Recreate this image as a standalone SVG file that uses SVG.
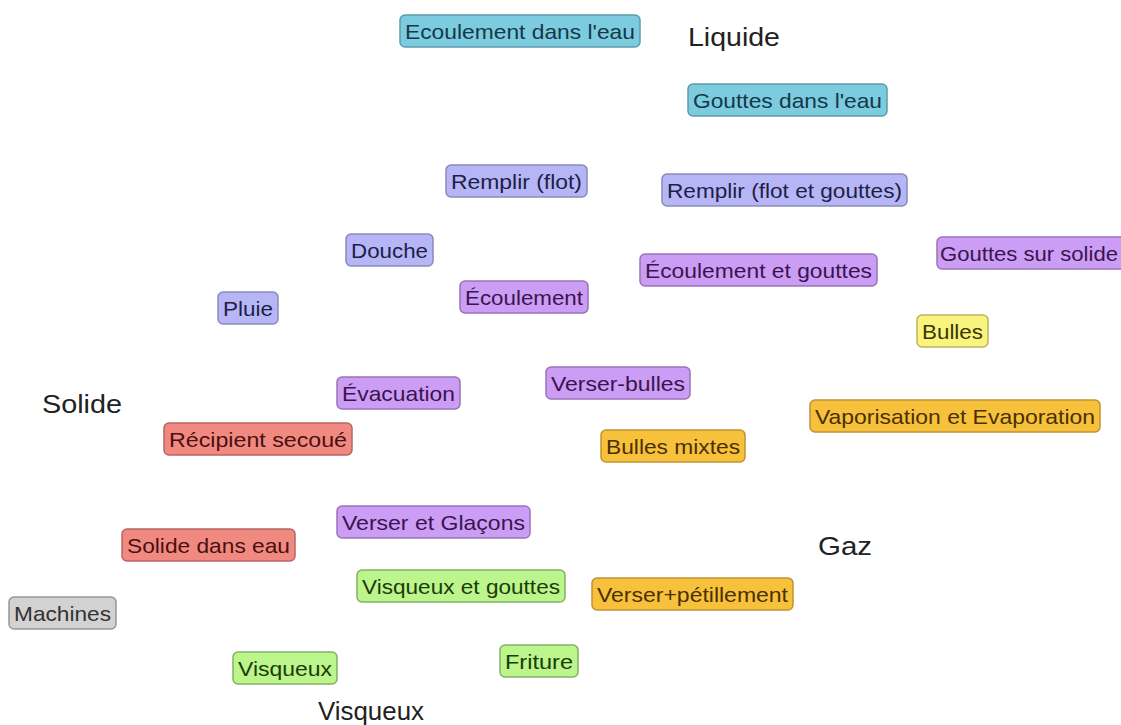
<svg xmlns="http://www.w3.org/2000/svg" width="1121" height="725" viewBox="0 0 1121 725">
<style>
.b{stroke-width:1.5}
.t{font-family:"Liberation Sans",Arial,sans-serif;font-size:21px;text-anchor:middle;dominant-baseline:central}
.L{font-family:"Liberation Sans",Arial,sans-serif;font-size:25px;fill:#222}
.cy rect{fill:#7ccbde;stroke:#5c9cac}.cy text{fill:#15384a}
.lv rect{fill:#b6b6f6;stroke:#8a8ab8}.lv text{fill:#1e1e48}
.pu rect{fill:#cc9df5;stroke:#9a74b6}.pu text{fill:#3a1450}
.ye rect{fill:#f8f47e;stroke:#b8b460}.ye text{fill:#3a3608}
.or rect{fill:#f7c13c;stroke:#c09234}.or text{fill:#4a3004}
.re rect{fill:#f08a80;stroke:#b86464}.re text{fill:#4a1010}
.gr rect{fill:#bbf58c;stroke:#82b264}.gr text{fill:#1c3c08}
.gy rect{fill:#d2d2d2;stroke:#969696}.gy text{fill:#333}
</style>
<rect width="1121" height="725" fill="#fff"/>
<g id="connectors"/>
<g id="n1" class="cy"><rect class="b" x="400" y="15" width="240" height="32" rx="5"/><text class="t" x="520" y="31" textLength="230" lengthAdjust="spacingAndGlyphs">Ecoulement dans l'eau</text></g>
<g id="n2" class="cy"><rect class="b" x="688" y="84" width="199" height="32" rx="5"/><text class="t" x="787.5" y="100" textLength="189" lengthAdjust="spacingAndGlyphs">Gouttes dans l'eau</text></g>
<g id="n3" class="lv"><rect class="b" x="446" y="165" width="141" height="32" rx="5"/><text class="t" x="516.5" y="181" textLength="131" lengthAdjust="spacingAndGlyphs">Remplir (flot)</text></g>
<g id="n4" class="lv"><rect class="b" x="662" y="174" width="245" height="32" rx="5"/><text class="t" x="784.5" y="190" textLength="235" lengthAdjust="spacingAndGlyphs">Remplir (flot et gouttes)</text></g>
<g id="n5" class="lv"><rect class="b" x="346" y="234" width="87" height="32" rx="5"/><text class="t" x="389.5" y="250" textLength="77" lengthAdjust="spacingAndGlyphs">Douche</text></g>
<g id="n6" class="pu"><rect class="b" x="937" y="237" width="190" height="32" rx="5"/><text class="t" x="1029" y="253" textLength="178" lengthAdjust="spacingAndGlyphs">Gouttes sur solide</text></g>
<g id="n7" class="pu"><rect class="b" x="640" y="254" width="237" height="32" rx="5"/><text class="t" x="758.5" y="270" textLength="227" lengthAdjust="spacingAndGlyphs">Écoulement et gouttes</text></g>
<g id="n8" class="pu"><rect class="b" x="460" y="281" width="128" height="32" rx="5"/><text class="t" x="524" y="297" textLength="118" lengthAdjust="spacingAndGlyphs">Écoulement</text></g>
<g id="n9" class="lv"><rect class="b" x="218" y="292" width="60" height="32" rx="5"/><text class="t" x="248" y="308" textLength="50" lengthAdjust="spacingAndGlyphs">Pluie</text></g>
<g id="n10" class="ye"><rect class="b" x="917" y="315" width="71" height="32" rx="5"/><text class="t" x="952.5" y="331" textLength="61" lengthAdjust="spacingAndGlyphs">Bulles</text></g>
<g id="n11" class="pu"><rect class="b" x="337" y="377" width="123" height="32" rx="5"/><text class="t" x="398.5" y="393" textLength="113" lengthAdjust="spacingAndGlyphs">Évacuation</text></g>
<g id="n12" class="pu"><rect class="b" x="546" y="367" width="144" height="32" rx="5"/><text class="t" x="618" y="383" textLength="134" lengthAdjust="spacingAndGlyphs">Verser-bulles</text></g>
<g id="n13" class="or"><rect class="b" x="810" y="400" width="290" height="32" rx="5"/><text class="t" x="955" y="416" textLength="280" lengthAdjust="spacingAndGlyphs">Vaporisation et Evaporation</text></g>
<g id="n14" class="re"><rect class="b" x="164" y="423" width="188" height="32" rx="5"/><text class="t" x="258" y="439" textLength="178" lengthAdjust="spacingAndGlyphs">Récipient secoué</text></g>
<g id="n15" class="or"><rect class="b" x="601" y="430" width="144" height="32" rx="5"/><text class="t" x="673" y="446" textLength="134" lengthAdjust="spacingAndGlyphs">Bulles mixtes</text></g>
<g id="n16" class="pu"><rect class="b" x="337" y="506" width="193" height="32" rx="5"/><text class="t" x="433.5" y="522" textLength="183" lengthAdjust="spacingAndGlyphs">Verser et Glaçons</text></g>
<g id="n17" class="re"><rect class="b" x="122" y="529" width="173" height="32" rx="5"/><text class="t" x="208.5" y="545" textLength="163" lengthAdjust="spacingAndGlyphs">Solide dans eau</text></g>
<g id="n18" class="gr"><rect class="b" x="357" y="570" width="208" height="32" rx="5"/><text class="t" x="461" y="586" textLength="198" lengthAdjust="spacingAndGlyphs">Visqueux et gouttes</text></g>
<g id="n19" class="or"><rect class="b" x="592" y="578" width="201" height="32" rx="5"/><text class="t" x="692.5" y="594" textLength="191" lengthAdjust="spacingAndGlyphs">Verser+pétillement</text></g>
<g id="n20" class="gy"><rect class="b" x="9" y="597" width="107" height="32" rx="5"/><text class="t" x="62.5" y="613" textLength="97" lengthAdjust="spacingAndGlyphs">Machines</text></g>
<g id="n21" class="gr"><rect class="b" x="233" y="652" width="104" height="32" rx="5"/><text class="t" x="285" y="668" textLength="94" lengthAdjust="spacingAndGlyphs">Visqueux</text></g>
<g id="n22" class="gr"><rect class="b" x="500" y="645" width="78" height="32" rx="5"/><text class="t" x="539" y="661" textLength="68" lengthAdjust="spacingAndGlyphs">Friture</text></g>
<g id="labels">
<text class="L" x="688" y="46" textLength="92" lengthAdjust="spacingAndGlyphs">Liquide</text>
<text class="L" x="42" y="413" textLength="80" lengthAdjust="spacingAndGlyphs">Solide</text>
<text class="L" x="818" y="555" textLength="54" lengthAdjust="spacingAndGlyphs">Gaz</text>
<text class="L" x="318" y="720" textLength="106" lengthAdjust="spacingAndGlyphs">Visqueux</text>
</g>
</svg>
